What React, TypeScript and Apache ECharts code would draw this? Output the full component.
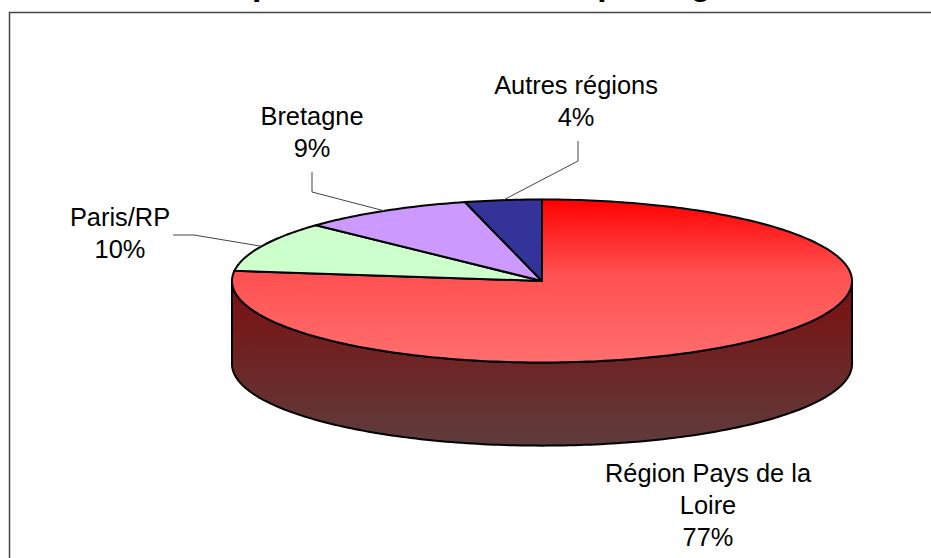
import React, { useEffect, useRef } from "react";
import * as echarts from "echarts";

const regionNames = ["Région Pays de la\nLoire", "Paris/RP", "Bretagne", "Autres régions"];
const regionShares = [77, 10, 9, 4];
const titleText = "Répartition des salariés par région";

const FONT = '"Liberation Sans", Arial, sans-serif';
const sliceFills: any[] = [
  new echarts.graphic.LinearGradient(0, 0, 0, 1, [
    { offset: 0, color: "#FF0000" },
    { offset: 0.45, color: "#FF5050" },
    { offset: 1, color: "#FF6E6E" },
  ]),
  "#CCFFCC",
  "#CC99FF",
  "#333399",
];
const wallFill = new echarts.graphic.LinearGradient(0, 0, 0, 1, [
  { offset: 0, color: "#7D0E0E" },
  { offset: 1, color: "#5E3C3C" },
]);
// label centre (px) and leader elbow points (px) for each slice
const labelCentres = [[708, 505], [120, 233], [312, 132], [576, 101]];
const leaderElbows: number[][][] = [[], [[173, 235], [194, 235]], [[312, 172], [312, 192]], [[578, 141], [578, 161]]];
const DEPTH = 1.02; // wall height in units of the vertical radius

function renderItem(params: any, api: any) {
  const i = params.dataIndex;
  const total = regionShares.reduce((a, b) => a + b, 0);
  const before = regionShares.slice(0, i).reduce((a, b) => a + b, 0);
  const from = (before / total) * 360;
  const to = ((before + api.value(0)) / total) * 360;
  const at = (deg: number, drop = 0) => {
    const r = (deg * Math.PI) / 180;
    return api.coord([Math.sin(r), Math.cos(r) - drop]);
  };
  const arc = (a: number, b: number, drop = 0) => {
    const pts: number[][] = [];
    const n = Math.max(2, Math.ceil(Math.abs(b - a)));
    for (let k = 0; k <= n; k++) pts.push(at(a + ((b - a) * k) / n, drop));
    return pts;
  };
  const children: any[] = [];
  const wFrom = Math.max(from, 90);
  const wTo = Math.min(to, 270);
  if (wTo > wFrom) {
    children.push({
      type: "polygon",
      shape: { points: [...arc(wFrom, wTo), ...arc(wTo, wFrom, DEPTH)] },
      style: { fill: wallFill, stroke: "#000", lineWidth: 2, lineJoin: "round" },
    });
  }
  children.push({
    type: "polygon",
    shape: { points: [api.coord([0, 0]), ...arc(from, to)] },
    style: { fill: sliceFills[i], stroke: "#000", lineWidth: 2, lineJoin: "round" },
  });
  if (leaderElbows[i].length) {
    children.push({
      type: "polyline",
      shape: { points: [...leaderElbows[i], at((from + to) / 2)] },
      style: { fill: "none", stroke: "#444", lineWidth: 1 },
    });
  }
  children.push({
    type: "text",
    style: {
      x: labelCentres[i][0],
      y: labelCentres[i][1],
      text: `${regionNames[i]}\n${api.value(0)}%`,
      font: `25.4px ${FONT}`,
      fill: "#000",
      align: "center",
      verticalAlign: "middle",
      lineHeight: 32,
    },
  });
  return { type: "group", children };
}

export default function App() {
  const ref = useRef<HTMLDivElement>(null);
  useEffect(() => {
    document.body.style.margin = "0";
    const chart = echarts.init(ref.current!, undefined, { renderer: "svg" });
    chart.setOption({
      animation: false,
      backgroundColor: "#FFFFFF",
      grid: { left: 232, width: 620, top: 199.5, height: 163 },
      xAxis: { type: "value", min: -1, max: 1, show: false },
      yAxis: { type: "value", min: -1, max: 1, show: false },
      graphic: [
        {
          type: "rect",
          z: -1,
          shape: { x: 9.5, y: 12.5, width: 960, height: 600 },
          style: { fill: "none", stroke: "#444", lineWidth: 1.5 },
        },
        {
          type: "text",
          style: {
            x: 209,
            y: -34,
            text: titleText,
            font: `bold 33.6px ${FONT}`,
            fill: "#000",
            align: "left",
            verticalAlign: "top",
          },
        },
      ],
      series: [
        {
          type: "custom",
          coordinateSystem: "cartesian2d",
          clip: false,
          renderItem,
          encode: { x: 0, y: 1 },
          data: regionShares.map((v) => [v, 0]),
        },
      ],
    });
    return () => chart.dispose();
  }, []);
  return <div ref={ref} style={{ width: 931, height: 558 }} />;
}
